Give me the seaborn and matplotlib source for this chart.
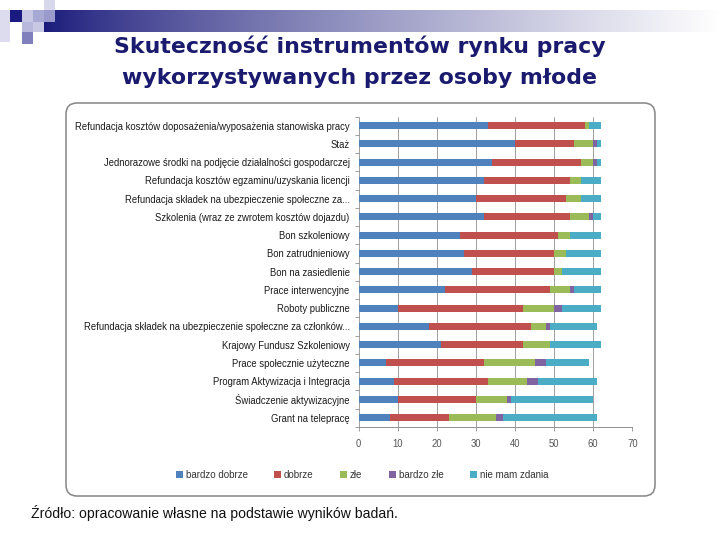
import numpy as np
import pandas as pd
import matplotlib
matplotlib.use("Agg")
import matplotlib.pyplot as plt
import seaborn as sns
from matplotlib.patches import FancyBboxPatch, Rectangle, Patch

categories = [
    "Refundacja kosztów doposażenia/wyposażenia stanowiska pracy",
    "Staż",
    "Jednorazowe środki na podjęcie działalności gospodarczej",
    "Refundacja kosztów egzaminu/uzyskania licencji",
    "Refundacja składek na ubezpieczenie społeczne za...",
    "Szkolenia (wraz ze zwrotem kosztów dojazdu)",
    "Bon szkoleniowy",
    "Bon zatrudnieniowy",
    "Bon na zasiedlenie",
    "Prace interwencyjne",
    "Roboty publiczne",
    "Refundacja składek na ubezpieczenie społeczne za członków...",
    "Krajowy Fundusz Szkoleniowy",
    "Prace społecznie użyteczne",
    "Program Aktywizacja i Integracja",
    "Świadczenie aktywizacyjne",
    "Grant na telepracę",
]
bardzo_dobrze = [33, 40, 34, 32, 30, 32, 26, 27, 29, 22, 10, 18, 21, 7, 9, 10, 8]
dobrze        = [25, 15, 23, 22, 23, 22, 25, 23, 21, 27, 32, 26, 21, 25, 24, 20, 15]
zle           = [1, 5, 3, 3, 4, 5, 3, 3, 2, 5, 8, 4, 7, 13, 10, 8, 12]
bardzo_zle    = [0, 1, 1, 0, 0, 1, 0, 0, 0, 1, 2, 1, 0, 3, 3, 1, 2]
nie_mam       = [3, 1, 1, 5, 5, 2, 8, 9, 10, 7, 10, 12, 13, 11, 15, 21, 24]
series_names = ["bardzo dobrze", "dobrze", "złe", "bardzo złe", "nie mam zdania"]
x_ticks = [0, 10, 20, 30, 40, 50, 60, 70]

colors = ["#4F81BD", "#C0504D", "#9BBB59", "#8064A2", "#4BACC6"]

df = pd.DataFrame({
    "cat": categories,
    "bardzo dobrze": bardzo_dobrze,
    "dobrze": dobrze,
    "złe": zle,
    "bardzo złe": bardzo_zle,
    "nie mam zdania": nie_mam,
})
cum = df[series_names].cumsum(axis=1)

sns.set_theme(style="white")
plt.rcParams["font.family"] = ["Liberation Sans", "DejaVu Sans"]

W, H = 720, 540
fig = plt.figure(figsize=(W / 72, H / 72), dpi=72)
fig.patch.set_facecolor("white")

# chart box (background layer)
bg = fig.add_axes([0, 0, 1, 1], zorder=-10)
bg.set_axis_off()
bg.add_patch(FancyBboxPatch((66, 103), 655 - 66, 496 - 103,
                            boxstyle="round,pad=0,rounding_size=11",
                            facecolor="white", edgecolor="#8a8a8a", linewidth=1.6))

# decorative header gradient bar
grad = np.linspace(0, 1, 512)
c0 = np.array([0.10, 0.10, 0.48])
c1 = np.array([1.0, 1.0, 1.0])
t = np.clip(grad / 1.0, 0, 1) ** 0.8
img = (c0[None, :] * (1 - t[:, None]) + c1[None, :] * t[:, None])[None, :, :]
bg.imshow(img, aspect="auto", extent=[44, W, 32, 10], zorder=1)
bg.set_xlim(0, W)
bg.set_ylim(H, 0)

# decorative squares
sq = [
    (0, 10, 10, 32, "#dcdcee"),
    (10, 10, 12, 12, "#1a1a80"),
    (22, 10, 11, 12, "#c8c8e4"),
    (33, 10, 11, 12, "#a8a8d4"),
    (44, 0, 11, 10, "#d8d8ec"),
    (44, 10, 11, 12, "#9a9acc"),
    (22, 22, 11, 10, "#b8b8dc"),
    (33, 22, 11, 10, "#c8c8e4"),
    (22, 32, 11, 12, "#8080bc"),
]
for x0, y0, w, h, c in sq:
    bg.add_patch(Rectangle((x0, y0), w, h, facecolor=c, edgecolor="none", zorder=2))

# title
for yy, line in [(46, "Skuteczność instrumentów rynku pracy"),
                 (78, "wykorzystywanych przez osoby młode")]:
    fig.text(360 / W, 1 - yy / H, line, ha="center", va="center", fontsize=22,
             fontweight="bold", color="#1a1a6e", family=["DejaVu Sans"])

# plot axes
left, right = 358.7 / W, 632.3 / W
top, bottom = 1 - 116.5 / H, 1 - 426.8 / H
ax = fig.add_axes([left, bottom, right - left, top - bottom], zorder=2)
ax.set_facecolor("none")

for i in range(len(series_names) - 1, -1, -1):
    sns.barplot(x=cum[series_names[i]], y=df["cat"], orient="h",
                color=colors[i], width=0.38, saturation=1, ax=ax,
                edgecolor="none", zorder=3)

ax.set_xlim(0, 70)
ax.set_ylim(len(categories) - 0.5, -0.5)
ax.set_xticks(x_ticks)
ax.set_xticklabels([str(v) for v in x_ticks], fontsize=9.5, color="#555555")
ax.set_xlabel("")
ax.set_ylabel("")
ax.tick_params(axis="y", labelsize=9.5, length=0, pad=9, labelcolor="#1a1a1a")
ax.tick_params(axis="x", length=4, width=0.8, color="#8a8a8a", direction="out", pad=8, bottom=True)
ax.set_yticks(np.arange(len(categories) + 1) - 0.5, minor=True)
ax.tick_params(axis="y", which="minor", length=4, width=0.8, color="#8a8a8a", left=True)
ax.grid(axis="x", color="#8a8a8a", linewidth=0.8, zorder=0)
ax.set_axisbelow(True)
for s in ["top", "right", "left"]:
    ax.spines[s].set_visible(False)
ax.spines["bottom"].set_color("#8a8a8a")
ax.spines["bottom"].set_linewidth(0.9)

handles = [Patch(facecolor=c, edgecolor="none") for c in colors]
fig.legend(handles, series_names, loc="center", bbox_to_anchor=(362 / W, 1 - 475 / H),
           ncol=5, frameon=False, fontsize=9.8, handlelength=0.7, handleheight=0.7,
           handletextpad=0.3, columnspacing=2.7, labelcolor="#333333")

fig.text(31 / W, 1 - 513 / H, "Źródło: opracowanie własne na podstawie wyników badań.",
         ha="left", va="center", fontsize=14, color="#111111")

fig.savefig("out.png", dpi=72, facecolor="white")
